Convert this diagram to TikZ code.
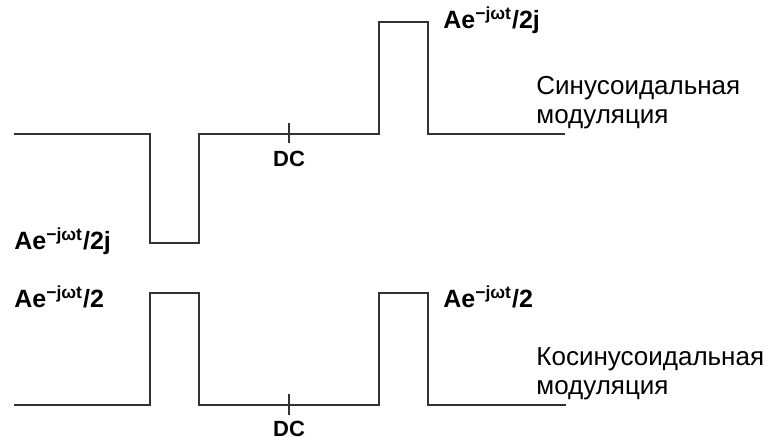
\documentclass[tikz,border=0pt]{standalone}
\usepackage{fontspec}
\setmainfont{Liberation Sans}
\usetikzlibrary{positioning}

\newcommand{\amplitude}[1]{Ae\textsuperscript{−jωt}/#1}

\begin{document}
\begin{tikzpicture} [x=0.5pt, y=-0.5pt,
            signal/.style = {draw=black!80, line width=1pt},
            amptext/.style = {font=\bfseries\fontsize{12.5}{14}\selectfont,
                inner sep=0pt, anchor=west},
            dctext/.style = {font=\bfseries\fontsize{11}{13}\selectfont,
                inner sep=0pt},
            modtext/.style = {font=\fontsize{13}{14.5}\selectfont,
                align=left, inner sep=0pt, anchor=west}]

            \useasboundingbox (0,0) rectangle (765,437);

            % Sine modulation spectrum
            \coordinate (s0) at (14,134);
            \coordinate (s1) at (565,134);
            \draw [signal] (s0) -- (150,134) -- (150,243) -- (199,243)
                -- (199,134) -- (379,134) -- (379,22) -- (428,22)
                -- (428,134) -- (s1);

            % DC tick (sine)
            \draw [signal] (289,123) -- (289,143);
            \node (sdclabel) [dctext] at (289,159) {DC};

            % Sine labels
            \node (sposlabel) [amptext] at (443,20) {\amplitude{2j}};
            \node (sneglabel) [amptext] at (14,241) {\amplitude{2j}};
            \node (sinname) [modtext] at (536,103) {Синусоидальная\\модуляция};

            % Cosine modulation spectrum
            \coordinate (c0) at (14,405);
            \coordinate (c1) at (566,405);
            \draw [signal] (c0) -- (150,405) -- (150,293) -- (199,293)
                -- (199,405) -- (379,405) -- (379,293) -- (428,293)
                -- (428,405) -- (c1);

            % DC tick (cosine)
            \draw [signal] (289,394) -- (289,415);
            \node (cdclabel) [dctext] at (289,429) {DC};

            % Cosine labels
            \node (cneglabel) [amptext] at (14,297) {\amplitude{2}};
            \node (cposlabel) [amptext] at (443,297) {\amplitude{2}};
            \node (cosname) [modtext] at (536,374) {Косинусоидальная\\модуляция};
\end{tikzpicture}
\end{document}
